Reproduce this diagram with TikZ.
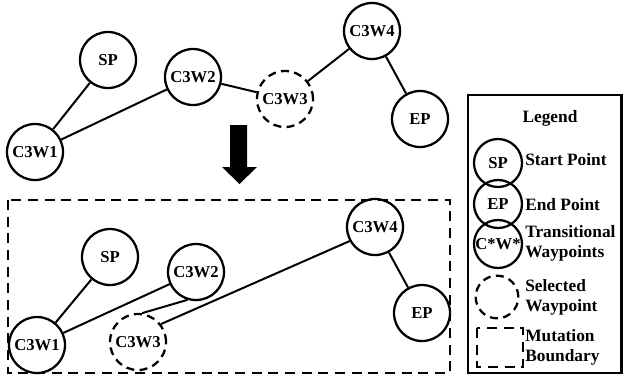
\documentclass[tikz,border=0pt]{standalone}
\usepackage{fontspec}
\setmainfont{Liberation Serif}
\usetikzlibrary{positioning}
\colorlet{linecolor}{black}
\tikzset{
  wpt/.style={
    circle,
    draw=linecolor,
    line width=1.7pt,
    minimum size=42pt,
    inner sep=0pt,
    font=\bfseries\fontsize{12.5}{14}\selectfont
  },
  selwpt/.style={wpt, dash pattern=on 6pt off 4pt},
  legwpt/.style={wpt, minimum size=36pt},
  link/.style={draw=linecolor, line width=1.5pt},
  boundary/.style={draw=linecolor, line width=1.6pt, dash pattern=on 7.5pt off 5pt},
  legtext/.style={anchor=west, align=left, inner sep=0pt,
    font=\bfseries\fontsize{13}{15}\selectfont}
}
\begin{document}
\begin{tikzpicture}[x=0.75pt, y=-0.75pt]
\useasboundingbox (0,0) rectangle (624,376);

% original path
\node[wpt] (sp) at (108,60) {SP};
\node[wpt] (w1) at (35,152) {C3W1};
\node[wpt] (w2) at (193,77) {C3W2};
\node[selwpt] (w3) at (285,99) {C3W3};
\node[wpt] (w4) at (372,31) {C3W4};
\node[wpt] (ep) at (420,119) {EP};

\draw[link] (sp) -- (w1);
\draw[link] (w1) -- (w2);
\draw[link] (w2) -- (w3);
\draw[link] (w3) -- (w4);
\draw[link] (w4) -- (ep);

% mutation arrow
\fill[linecolor] (230,125) -- (247,125) -- (247,167) -- (257,167)
  -- (239.5,184) -- (222,167) -- (230,167) -- cycle;

% mutated path
\draw[boundary] (8,200) rectangle (450,373);
\node[wpt] (msp) at (110,257) {SP};
\node[wpt] (mw1) at (37,345) {C3W1};
\node[wpt] (mw2) at (196,272) {C3W2};
\node[selwpt] (mw3) at (138,342) {C3W3};
\node[wpt] (mw4) at (375,227) {C3W4};
\node[wpt] (mep) at (422,313) {EP};

\draw[link] (msp) -- (mw1);
\draw[link] (mw1) -- (mw2);
\draw[link] (mw2.-107) -- (mw3.82);
\draw[link] (mw4.-151) -- (mw3.38);
\draw[link] (mw4) -- (mep);

% legend
\draw[draw=linecolor, line width=1.6pt] (468,95) rectangle (621.5,373);
\node[legtext, anchor=center] (legtitle) at (550,118) {Legend};
\node[legwpt] (lsp) at (498,163) {SP};
\node[legwpt] (lep) at (498,204) {EP};
\node[legwpt] (lw) at (498,244) {C*W*};
\node[selwpt, minimum size=32pt] (lsel) at (497,297) {};
\draw[boundary] (477,328) rectangle (523,367);

\node[legtext] (tsp) at (525,160) {Start Point};
\node[legtext] (tep) at (525,205) {End Point};
\node[legtext] (tw) at (525,243) {Transitional\\Waypoints};
\node[legtext] (tsel) at (525,297) {Selected\\Waypoint};
\node[legtext] (tmb) at (525,347) {Mutation\\Boundary};

\end{tikzpicture}
\end{document}
